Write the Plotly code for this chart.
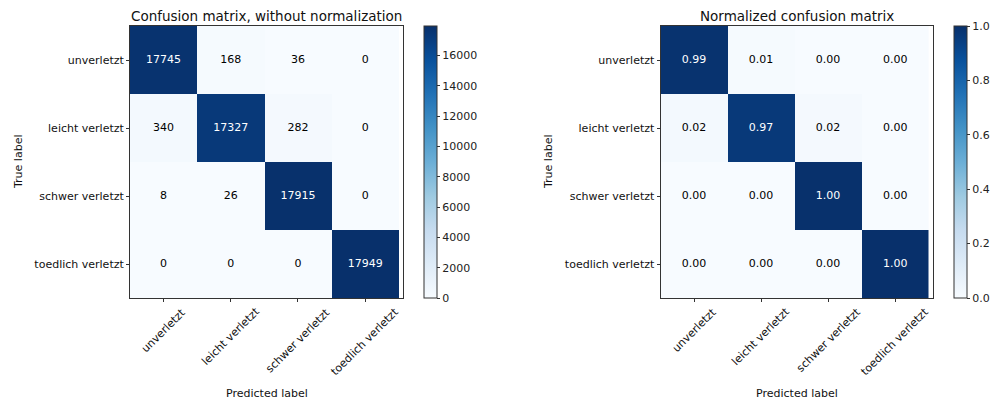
import plotly.graph_objects as go

# Class names (rows = true label, columns = predicted label)
classes = ["unverletzt", "leicht verletzt", "schwer verletzt", "toedlich verletzt"]

# Raw prediction counts per true class
row_unverletzt = [17745, 168, 36, 0]
row_leicht = [340, 17327, 282, 0]
row_schwer = [8, 26, 17915, 0]
row_toedlich = [0, 0, 0, 17949]
counts = [row_unverletzt, row_leicht, row_schwer, row_toedlich]

# Colorbar ticks
count_ticks = [0, 2000, 4000, 6000, 8000, 10000, 12000, 14000, 16000]
norm_ticks = [0.0, 0.2, 0.4, 0.6, 0.8, 1.0]

# Row-normalised matrix
normalized = [[v / sum(row) for v in row] for row in counts]

# matplotlib-style "Blues"
blues = ['rgb(247,251,255)', 'rgb(222,235,247)', 'rgb(198,219,239)',
         'rgb(158,202,225)', 'rgb(107,174,214)', 'rgb(66,146,198)',
         'rgb(33,113,181)', 'rgb(8,81,156)', 'rgb(8,48,107)']

FONT = "DejaVu Sans"
W, H = 1002, 403
AX = "#333333"
TXT = "#111111"


def px_x(p):
    return p / W


def px_y(p):
    return 1 - p / H


fig = go.Figure()


def add_matrix(z, fmt, xa, ya, cb_left, ticks, tickfmt, zmax):
    fig.add_trace(go.Heatmap(
        z=z, x=classes, y=classes, colorscale=blues, zmin=0, zmax=zmax,
        xaxis=xa, yaxis=ya, hoverinfo="skip",
        colorbar=dict(
            x=px_x(cb_left), xanchor="left", xref="paper", xpad=0, ypad=0,
            y=px_y(162), yanchor="middle",
            len=272, lenmode="pixels", thickness=13,
            outlinewidth=1, outlinecolor=AX,
            ticks="outside", ticklen=3, tickcolor=AX,
            tickvals=ticks, tickformat=tickfmt,
            tickfont=dict(family=FONT, size=11, color="#222"),
        ),
    ))
    thresh = zmax / 2.0
    for col, cond in (("white", lambda v: v > thresh), ("black", lambda v: v <= thresh)):
        xs, ys, ts = [], [], []
        for i, row in enumerate(z):
            for j, v in enumerate(row):
                if cond(v):
                    xs.append(classes[j])
                    ys.append(classes[i])
                    ts.append(format(v, fmt))
        fig.add_trace(go.Scatter(
            x=xs, y=ys, text=ts, mode="text", xaxis=xa, yaxis=ya,
            textposition="middle center", hoverinfo="skip", showlegend=False,
            textfont=dict(family=FONT, size=11, color=col),
        ))


count_max = max(max(r) for r in counts)
add_matrix(counts, "d", "x", "y", 424, count_ticks, "d", count_max)
add_matrix(normalized, ".2f", "x2", "y2", 954, norm_ticks, ".1f", 1.0)


def xaxis(left, right, anchor):
    return dict(
        domain=[px_x(left), px_x(right)], anchor=anchor, automargin=False,
        type="category", categoryorder="array", categoryarray=classes,
        showline=True, mirror=True, linecolor=AX, linewidth=1,
        ticks="outside", ticklen=3, tickcolor=AX, showticklabels=False,
        showgrid=False, zeroline=False,
    )


def yaxis(anchor):
    return dict(
        domain=[px_y(298), px_y(26)], anchor=anchor, automargin=False,
        type="category", categoryorder="array", categoryarray=classes,
        autorange="reversed",
        showline=True, mirror=True, linecolor=AX, linewidth=1,
        ticks="outside", ticklen=3, tickcolor=AX,
        showgrid=False, zeroline=False,
        tickfont=dict(family=FONT, size=11, color=TXT),
    )


annotations = []
for (xref, left, right, title, ylab_x) in (("x", 130, 403, "Confusion matrix, without normalization", 18),
                                           ("x2", 660.5, 933, "Normalized confusion matrix", 548)):
    cx = px_x((left + right) / 2)
    annotations.append(dict(text=title, x=cx, y=px_y(16), xref="paper", yref="paper",
                            showarrow=False, xanchor="center", yanchor="middle",
                            font=dict(family=FONT, size=13.5, color=TXT)))
    annotations.append(dict(text="Predicted label", x=cx, y=px_y(385), xref="paper", yref="paper",
                            showarrow=False, xanchor="center", yanchor="top",
                            font=dict(family=FONT, size=11, color=TXT)))
    annotations.append(dict(text="True label", x=px_x(ylab_x), y=px_y(162), xref="paper", yref="paper",
                            showarrow=False, xanchor="center", yanchor="middle", textangle=-90,
                            font=dict(family=FONT, size=11, color=TXT)))
    # rotated category labels, centred under each tick
    for c in classes:
        annotations.append(dict(text=c, x=c, y=px_y(304), xref=xref, yref="paper",
                                showarrow=False, xanchor="center", yanchor="top", textangle=-45,
                                borderpad=0,
                                font=dict(family=FONT, size=11, color=TXT)))

fig.update_layout(
    width=W, height=H,
    margin=dict(l=0, r=0, t=0, b=0),
    paper_bgcolor="white", plot_bgcolor="white",
    showlegend=False,
    font=dict(family=FONT, size=11, color=TXT),
    xaxis=xaxis(130, 403, "y"),
    yaxis=yaxis("x"),
    xaxis2=xaxis(660.5, 933, "y2"),
    yaxis2=yaxis("x2"),
    annotations=annotations,
)

fig.write_html("out.html")
